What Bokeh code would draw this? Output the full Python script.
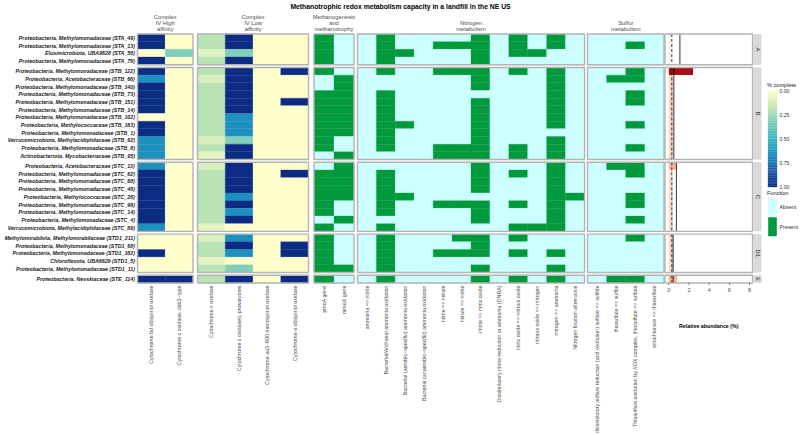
import numpy as np
from bokeh.plotting import figure
from bokeh.models import Range1d
from bokeh.core.properties import value
from bokeh.embed import file_html
from bokeh.resources import INLINE

# ---------------- data ----------------
title_text = "Methanotrophic redox metabolism capacity in a landfill in the NE US"

facet_names = ["A", "B", "C", "D1", "E"]
facet_sizes = [4, 12, 9, 5, 1]

genome_labels = [
    "Proteobacteria, Methylomonadaceae (STA_49)",
    "Proteobacteria, Methylomonadaceae (STA_13)",
    "Elusimicrobiota, UBA9628 (STA_56)",
    "Proteobacteria, Methylomonadaceae (STA_76)",
    "Proteobacteria, Methylomonadaceae (STB_122)",
    "Proteobacteria, Acetobacteraceae (STB_66)",
    "Proteobacteria, Methylomonadaceae (STB_140)",
    "Proteobacteria, Methylomonadaceae (STB_73)",
    "Proteobacteria, Methylomonadaceae (STB_151)",
    "Proteobacteria, Methylomonadaceae (STB_14)",
    "Proteobacteria, Methylomonadaceae (STB_102)",
    "Proteobacteria, Methylococcaceae (STB_163)",
    "Proteobacteria, Methylomonadaceae (STB_1)",
    "Verrucomicrobiota, Methylacidiphilaceae (STB_62)",
    "Proteobacteria, Methylomonadaceae (STB_8)",
    "Actinobacteriota, Mycobacteriaceae (STB_95)",
    "Proteobacteria, Acetobacteraceae (STC_13)",
    "Proteobacteria, Methylomonadaceae (STC_62)",
    "Proteobacteria, Methylomonadaceae (STC_68)",
    "Proteobacteria, Methylomonadaceae (STC_48)",
    "Proteobacteria, Methylococcaceae (STC_26)",
    "Proteobacteria, Methylomonadaceae (STC_96)",
    "Proteobacteria, Methylomonadaceae (STC_14)",
    "Proteobacteria, Methylomonadaceae (STC_4)",
    "Verrucomicrobiota, Methylacidiphilaceae (STC_89)",
    "Methylomirabilota, Methylomirabilaceae (STD1_211)",
    "Proteobacteria, Methylomonadaceae (STD1_68)",
    "Proteobacteria, Methylomonadaceae (STD1_182)",
    "Chloroflexota, UBA6629 (STD1_5)",
    "Proteobacteria, Methylomonadaceae (STD1_11)",
    "Proteobacteria, Nevskiaceae (STE_114)",
]

group_titles = ["Complex\nIV High\naffinity", "Complex\nIV Low\naffinity",
                "Methanogenesis\nand\nmethanotrophy", "Nitrogen\nmetabolism", "Sulfur\nmetabolism"]

hi_labels = ["Cytochrome bd ubiquinol oxidase", "Cytochrome c oxidase, cbb3\u2212type"]
lo_labels = ["Cytochrome c oxidase", "Cytochrome c oxidases, prokaryotes",
             "Cytochrome aa3\u2212600 menoquinol oxidase", "Cytochrome o ubiquinol oxidase"]
meth_labels = ["pmoA gene", "mmoX gene"]
nit_labels = ["ammonia => nitrite", "Bacterial/Archaeal ammonia oxidation",
              "Bacterial (aerobic\u2212specific) ammonia oxidation",
              "Bacterial (anaerobic\u2212specific) ammonia oxidation",
              "nitrite => nitrate", "nitrate => nitrite", "nitrite => nitric oxide",
              "Dissimilatory nitrite reduction to ammonia (DNRA)",
              "nitric oxide => nitrous oxide", "nitrous oxide => nitrogen",
              "nitrogen => ammonia", "Nitrogen fixation alternative"]
sul_labels = ["dissimilatory sulfate reduction (and oxidation) sulfate => sulfide",
              "thiosulfate => sulfite",
              "Thiosulfate oxidation by SOX complex, thiosulfate => sulfate",
              "tetrathionate => thiosulfate"]

# % complete (fraction) of cytochrome modules, rows in genome order
cyt_bd    = [1, 1, 0, 1,  1, .67, 1, 1, 1, 1, 0, 1, 1, .67, .67, .67,  .67, 1, 1, 1, 1, 1, 1, 1, .67,  0, 0, 1, 0, 0,  1]
cyt_cbb3  = [0, 0, .33, 0,  0, 0, 0, 0, 0, 0, 0, 0, 0, 0, 0, 0,  0, 0, 0, 0, 0, 0, 0, 0, 0,  0, 0, 0, 0, 0,  1]
cyt_c     = [.2, .2, .1, .2,  .2, .12, .2, .2, .2, .2, .2, .2, .2, .12, .2, .08,  .12, .2, .2, .2, .2, .2, .2, .2, .08,  .12, .2, .2, .08, .2,  .2]
cyt_cprok = [1, 1, .33, 1,  1, 1, 1, 1, 1, 1, .67, .67, .67, .33, 1, 1,  1, 1, 1, 1, .67, 1, .67, 1, 0,  .67, 1, .67, 0, .33,  1]
cyt_aa3   = [0, 0, 0, 0,  0, 0, 0, 0, 0, 0, 0, 0, 0, 0, 0, 0,  0, 0, 0, 0, 0, 0, 0, 0, 0,  0, 0, 0, 0, 0,  0]
cyt_o     = [0, 0, 0, 0,  1, 0, 0, 0, 1, 0, 0, 0, 0, 0, 0, 0,  0, 1, 0, 0, 0, 0, 0, 0, 0,  0, 1, 1, 0, 0,  1]

# presence (1) / absence (0) of functions
pmoA      = [1, 1, 1, 1,  1, 0, 0, 1, 1, 1, 1, 1, 1, 1, 1, 0,  0, 1, 1, 1, 1, 1, 1, 0, 1,  1, 1, 1, 1, 1,  1]
mmoX      = [0, 0, 0, 0,  0, 1, 1, 1, 1, 1, 1, 1, 1, 0, 0, 1,  1, 1, 1, 1, 1, 0, 0, 1, 0,  0, 0, 0, 0, 1,  0]

amm_nitrite   = [0, 0, 0, 0,  0, 0, 0, 0, 0, 0, 0, 0, 0, 0, 0, 0,  0, 0, 0, 0, 0, 0, 0, 0, 0,  0, 0, 0, 0, 0,  0]
amo_bac_arch  = [1, 1, 1, 1,  1, 0, 0, 1, 1, 1, 1, 1, 1, 1, 1, 0,  0, 1, 1, 1, 1, 1, 1, 0, 1,  1, 1, 1, 1, 1,  1]
amo_aerobic   = [0, 0, 1, 0,  0, 0, 0, 0, 0, 0, 0, 1, 0, 0, 0, 0,  0, 0, 0, 0, 1, 0, 0, 0, 0,  0, 0, 0, 0, 0,  0]
amo_anaerobic = [0, 0, 0, 0,  0, 0, 0, 0, 0, 0, 0, 0, 0, 0, 0, 0,  0, 0, 0, 0, 0, 0, 0, 0, 0,  0, 0, 0, 0, 0,  0]
nitrite_nitrate = [0, 1, 0, 0,  1, 0, 0, 0, 0, 0, 0, 0, 0, 0, 1, 1,  0, 0, 0, 0, 0, 1, 0, 0, 0,  0, 0, 1, 0, 0,  0]
nitrate_nitrite = [0, 1, 0, 0,  1, 0, 0, 0, 0, 0, 0, 0, 0, 0, 1, 1,  0, 0, 0, 0, 0, 1, 0, 0, 0,  1, 0, 1, 0, 0,  0]
nitrite_no    = [1, 1, 1, 1,  1, 1, 1, 0, 1, 1, 1, 1, 1, 1, 1, 1,  1, 1, 1, 1, 0, 1, 1, 1, 0,  1, 1, 1, 0, 1,  1]
dnra          = [0, 0, 0, 0,  0, 0, 0, 0, 0, 0, 0, 0, 0, 0, 0, 0,  0, 0, 0, 0, 0, 0, 0, 0, 0,  0, 0, 0, 0, 0,  0]
no_n2o        = [1, 1, 1, 0,  1, 0, 0, 0, 0, 0, 0, 0, 0, 0, 1, 1,  0, 1, 0, 0, 0, 1, 0, 0, 1,  1, 0, 1, 0, 0,  1]
n2o_n2        = [0, 0, 1, 0,  0, 0, 0, 0, 0, 0, 0, 0, 0, 0, 0, 0,  0, 0, 0, 0, 0, 0, 0, 0, 1,  0, 0, 0, 0, 0,  0]
n2_nh3        = [1, 1, 0, 0,  1, 1, 1, 1, 1, 1, 1, 1, 0, 1, 1, 1,  1, 1, 1, 1, 1, 1, 1, 1, 1,  0, 0, 1, 0, 1,  1]
nfix_alt      = [0, 0, 0, 0,  0, 0, 0, 0, 0, 0, 0, 0, 0, 0, 0, 0,  0, 0, 0, 0, 1, 0, 0, 0, 0,  0, 0, 0, 0, 0,  0]

dsr           = [0, 0, 0, 0,  0, 0, 0, 0, 0, 0, 0, 0, 0, 0, 0, 0,  0, 0, 0, 0, 0, 0, 0, 0, 0,  0, 0, 0, 0, 0,  0]
thio_sulfite  = [0, 0, 0, 0,  0, 1, 0, 0, 0, 0, 0, 0, 0, 0, 0, 0,  1, 0, 0, 0, 0, 0, 0, 0, 0,  0, 0, 0, 0, 0,  1]
sox           = [0, 1, 0, 0,  1, 1, 0, 1, 1, 0, 0, 1, 0, 0, 1, 0,  1, 1, 0, 0, 1, 1, 0, 1, 0,  1, 0, 0, 0, 0,  1]
tetra_thio    = [0, 0, 0, 0,  0, 0, 0, 0, 0, 0, 0, 0, 0, 0, 0, 0,  0, 0, 0, 0, 0, 0, 0, 0, 0,  0, 0, 0, 0, 0,  0]

# relative abundance (%) per genome, reference lines
abundance = [0.2, 0.2, 0.2, 0.2,
             2.4, 0.45, 0.45, 0.45, 0.45, 0.45, 0.45, 0.45, 0.45, 0.45, 0.45, 0.45,
             0.75, 0.3, 0.4, 0.4, 0.4, 0.4, 0.4, 0.4, 0.4,
             0.45, 0.45, 0.45, 0.45, 0.45,
             0.8]
facet_ref_line = [1.1, 0.5, 0.75, 0.43, 0.43]
global_ref_line = 0.3
abund_ticks = [0, 2, 4, 6, 8]
abund_limits = (-0.38, 8.3)
legend_ticks = [0.0, 0.25, 0.5, 0.75, 1.0]
function_levels = ["Absent", "Present"]

# ---------------- style / layout ----------------
FONT = value("Liberation Sans")
YLGNBU = ["#ffffcc", "#c7e9b4", "#7fcdbb", "#41b6c4", "#1d91c0", "#225ea8", "#0c2c84"]
REDS = ["#fff5f0", "#fee0d2", "#fcbba1", "#fc9272", "#fb6a4a", "#ef3b2c", "#cb181d", "#a50f15"]
FUNC_COLORS = {0: "#ccffff", 1: "#00993c"}
BORDER = "#b3b3b3"
TXT_GREY = "#4d4d4d"

W, H = 800, 435
ROW_TOP, ROW_H, GAP = 33.5, 7.67, 0.365


def yu(px):
    return (px - ROW_TOP) / ROW_H


def hex2rgb(h):
    return tuple(int(h[i:i + 2], 16) for i in (1, 3, 5))


def grad(stops, t):
    t = min(max(t, 0.0), 1.0)
    n = len(stops) - 1
    i = min(int(t * n), n - 1)
    f = t * n - i
    a, b = hex2rgb(stops[i]), hex2rgb(stops[i + 1])
    return "#%02x%02x%02x" % tuple(int(round(a[k] + (b[k] - a[k]) * f)) for k in range(3))


p = figure(width=W, height=H, x_range=Range1d(0, W), y_range=Range1d(yu(H), yu(0)),
           x_axis_type=None, y_axis_type=None, toolbar_location=None,
           output_backend="svg", min_border=0, outline_line_color=None)
p.background_fill_color = "white"
p.border_fill_color = "white"

# row positions
row_y, facet_bounds = [], []
r = 0
for f, n in enumerate(facet_sizes):
    top = r + f * GAP
    facet_bounds.append((top, top + n))
    row_y.extend([top + i + 0.5 for i in range(n)])
    r += n
ftops = [b[0] for b in facet_bounds]
fbots = [b[1] for b in facet_bounds]

panels = [
    ("hi", (137.0, 192.5), hi_labels, [cyt_bd, cyt_cbb3], "cyto"),
    ("lo", (197.0, 308.0), lo_labels, [cyt_c, cyt_cprok, cyt_aa3, cyt_o], "cyto"),
    ("meth", (313.5, 353.5), meth_labels, [pmoA, mmoX], "func"),
    ("nit", (357.0, 584.0), nit_labels,
     [amm_nitrite, amo_bac_arch, amo_aerobic, amo_anaerobic, nitrite_nitrate, nitrate_nitrite,
      nitrite_no, dnra, no_n2o, n2o_n2, n2_nh3, nfix_alt], "func"),
    ("sul", (587.0, 663.5), sul_labels, [dsr, thio_sulfite, sox, tetra_thio], "func"),
]

for (key, (x0, x1), labels, mats, kind), gtitle in zip(panels, group_titles):
    n = len(labels)
    s = (x1 - x0) / n
    p.extra_x_ranges[key] = Range1d(-x0 / s, (W - x0) / s)
    xs, ys, cs = [], [], []
    for j, col in enumerate(mats):
        for i, v in enumerate(col):
            xs.append(j + 0.5)
            ys.append(row_y[i])
            cs.append(grad(YLGNBU, v) if kind == "cyto" else FUNC_COLORS[v])
    p.rect(x=xs, y=ys, width=1, height=1, fill_color=cs, line_color=cs, line_width=0.3,
           x_range_name=key)
    p.quad(left=[0] * 5, right=[n] * 5, top=ftops, bottom=fbots, fill_color=None,
           line_color=BORDER, line_width=1.4, x_range_name=key)
    p.text(x=[n / 2], y=[yu(32)], text=[gtitle], text_align="center", text_baseline="bottom",
           text_font_size="5.8px", text_color=TXT_GREY, text_line_height=1.05,
           text_font=FONT, x_range_name=key)
    p.text(x=[j + 0.5 for j in range(n)], y=[yu(285)] * n, text=labels, angle=np.pi / 2,
           text_align="right", text_baseline="middle", text_font_size="5.3px",
           text_color=TXT_GREY, text_font=FONT, x_range_name=key)

# row labels
p.text(x=[134.5] * len(genome_labels), y=row_y, text=genome_labels, text_align="right",
       text_baseline="middle", text_font_size="5.3px", text_font_style="bold italic",
       text_color="#1a1a1a", text_font=FONT)

# relative abundance panel
AB_ZERO, AB_S = 668.3, 10.09
p.extra_x_ranges["ab"] = Range1d(-AB_ZERO / AB_S, (W - AB_ZERO) / AB_S)
ab_colors = [grad(REDS, v / max(abundance)) for v in abundance]
p.hbar(y=row_y, left=0, right=abundance, height=0.95, fill_color=ab_colors, line_color=None,
       x_range_name="ab")
p.segment(x0=[global_ref_line] * 5, x1=[global_ref_line] * 5, y0=ftops, y1=fbots,
          line_color="black", line_width=0.8, line_dash="3 2", x_range_name="ab")
p.segment(x0=facet_ref_line, x1=facet_ref_line, y0=ftops, y1=fbots,
          line_color="black", line_width=0.8, x_range_name="ab")
p.quad(left=[abund_limits[0]] * 5, right=[abund_limits[1]] * 5, top=ftops, bottom=fbots,
       fill_color=None, line_color=BORDER, line_width=1.4, x_range_name="ab")
p.segment(x0=abund_ticks, x1=abund_ticks, y0=[fbots[-1]] * 5, y1=[fbots[-1] + 0.3] * 5,
          line_color="#333333", line_width=0.6, x_range_name="ab")
p.text(x=abund_ticks, y=[yu(289.5)] * 5, text=[str(t) for t in abund_ticks],
       text_align="center", text_baseline="middle", text_font_size="5.5px",
       text_color=TXT_GREY, text_font=FONT, x_range_name="ab")
p.text(x=[sum(abund_limits) / 2], y=[yu(325)], text=["Relative abundance (%)"],
       text_align="center", text_baseline="middle", text_font_size="5.3px",
       text_font_style="bold", text_color="black", text_font=FONT, x_range_name="ab")

# facet strips (right)
p.quad(left=[752.5] * 5, right=[761] * 5, top=ftops, bottom=fbots, fill_color="#d9d9d9",
       line_color=None)
p.text(x=[757] * 5, y=[(a + b) / 2 for a, b in facet_bounds], text=facet_names,
       angle=-np.pi / 2, text_align="center", text_baseline="middle",
       text_font_size="5.8px", text_color="#1a1a1a", text_font=FONT)

# title
p.text(x=[W / 2], y=[yu(5.5)], text=[title_text], text_align="center", text_baseline="middle",
       text_font_size="6.8px", text_font_style="bold", text_color="black", text_font=FONT)

# legend: % complete colour bar
CB_TOP, CB_BOT, CB_L, CB_R = 89.5, 186.5, 767.5, 776.5
nseg = 60
edges = np.linspace(yu(CB_TOP), yu(CB_BOT), nseg + 1)
p.quad(left=[CB_L] * nseg, right=[CB_R] * nseg, top=edges[:-1], bottom=edges[1:],
       fill_color=[grad(YLGNBU, (k + 0.5) / nseg) for k in range(nseg)],
       line_color=[grad(YLGNBU, (k + 0.5) / nseg) for k in range(nseg)], line_width=0.3)
p.text(x=[766.5], y=[yu(84)], text=["% complete"], text_baseline="middle",
       text_font_size="5.6px", text_color="#1a1a1a", text_font=FONT)
p.text(x=[779] * 5, y=[yu(CB_TOP + 0.5 + t * (CB_BOT - CB_TOP - 1)) for t in legend_ticks],
       text=["%.2f" % t for t in legend_ticks], text_baseline="middle",
       text_font_size="5.1px", text_color="#333333", text_font=FONT)

# legend: Function
p.text(x=[766.5], y=[yu(192)], text=["Function"], text_baseline="middle",
       text_font_size="5.6px", text_color="#1a1a1a", text_font=FONT)
key_tops = [yu(197.7), yu(216.7)]
key_bots = [yu(215.0), yu(235.7)]
p.quad(left=[767.7] * 2, right=[776.3] * 2, top=key_tops, bottom=key_bots,
       fill_color=[FUNC_COLORS[0], FUNC_COLORS[1]], line_color=None)
p.text(x=[779] * 2, y=[(a + b) / 2 for a, b in zip(key_tops, key_bots)], text=function_levels,
       text_baseline="middle", text_font_size="5.4px", text_color="#333333", text_font=FONT)

open("out.html", "w").write(file_html(p, INLINE))
